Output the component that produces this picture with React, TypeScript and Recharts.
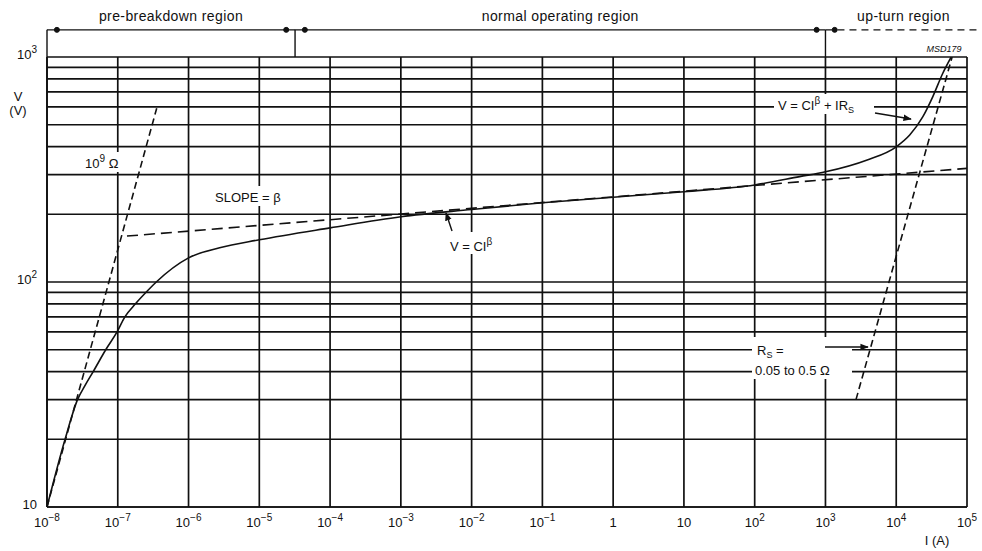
import React from "react";
import {
  LineChart,
  Line,
  XAxis,
  YAxis,
  CartesianGrid,
  ReferenceLine,
  ReferenceDot,
} from "recharts";

// current axis (A), one tick per decade
const currentTicks = [1e-8, 1e-7, 1e-6, 1e-5, 1e-4, 1e-3, 1e-2, 1e-1, 1, 10, 1e2, 1e3, 1e4, 1e5];
const currentTickBase = ["10", "10", "10", "10", "10", "10", "10", "10", "1", "10", "10", "10", "10", "10"];
const currentTickExp = ["−8", "−7", "−6", "−5", "−4", "−3", "−2", "−1", "", "", "2", "3", "4", "5"];

// voltage axis (V), grid at every 1..9 x decade, labels on decades only
const voltageGrid = [10, 20, 30, 40, 50, 60, 70, 80, 90, 100, 200, 300, 400, 500, 600, 700, 800, 900, 1000];
const voltageLabelValues = [10, 100, 1000];
const voltageLabelExp = ["", "2", "3"];

// measured characteristic V(I)
const curveI = [
  1e-8, 1.8e-8, 2.7e-8, 3.5e-8, 4.5e-8, 6.76e-8, 9.77e-8, 1.26e-7, 1.78e-7, 2.51e-7, 3.5e-7,
  1e-6, 2.75e-6, 1e-5, 1e-4, 1e-3, 1e-2, 0.1, 1, 10, 100, 432, 1000, 3800, 1e4, 15500,
  23800, 32900, 45500, 59700,
];
const curveV = [
  10, 20, 30, 35, 40, 50, 60, 70, 80, 90, 100,
  128, 142, 154, 174, 195, 210, 225, 238, 252, 270, 294, 309, 348, 399, 450,
  543, 667, 847, 1000,
];

// V = C·I^β fit (dashed)
const fitI = [1.35e-7, 1e5];
const fitV = [160, 320];

// 10^9 ohm leakage line
const leakI = [1e-8, 3.55e-7];
const leakV = [10, 592];

// Rs line in the up-turn region
const rsI = [2700, 61600];
const rsV = [30, 1000];

// region header above the plot
const headerV = 1320;
const regionEdges = [1e-8, 3.2e-5, 1e3, 1.6e5];
const regionNames = ["pre-breakdown region", "normal operating region", "up-turn region"];
const arrowHeadsI = [1.38e-8, 2.4e-5, 4.4e-5, 750, 1350];

const toPoints = (xs: number[], ys: number[]) => xs.map((i, k) => ({ i, v: ys[k] }));

const curveData = toPoints(curveI, curveV);
const fitData = toPoints(fitI, fitV);
const leakData = toPoints(leakI, leakV);
const rsData = toPoints(rsI, rsV);

const FONT = "'Liberation Sans', Arial, sans-serif";
const INK = "#111";

const CurrentTick = (props: any) => {
  const { x, y, payload } = props;
  const idx = currentTicks.indexOf(payload.value);
  if (idx < 0) return <g />;
  return (
    <text x={x} y={y + 12} textAnchor="middle" fontSize={13} fill={INK} fontFamily={FONT}>
      <tspan>{currentTickBase[idx]}</tspan>
      {currentTickExp[idx] && (
        <tspan dy={-6} fontSize={10}>
          {currentTickExp[idx]}
        </tspan>
      )}
    </text>
  );
};

const VoltageTick = (props: any) => {
  const { x, y, payload } = props;
  const idx = voltageLabelValues.indexOf(payload.value);
  if (idx < 0) return <g />;
  return (
    <text x={x - 2} y={y + 2} textAnchor="end" fontSize={13} fill={INK} fontFamily={FONT}>
      <tspan>10</tspan>
      {voltageLabelExp[idx] && (
        <tspan dy={-6} fontSize={10}>
          {voltageLabelExp[idx]}
        </tspan>
      )}
    </text>
  );
};

const labelStyle = { fontSize: 14, fill: INK, fontFamily: FONT, letterSpacing: 0.4 };

export default function App() {
  return (
    <div style={{ position: "relative", width: 982, height: 551, background: "#fff" }}>
      <style>{`body{margin:0;}`}</style>
      <LineChart
        width={982}
        height={551}
        margin={{ top: 57, right: 15, bottom: 0, left: 0 }}
      >
        <CartesianGrid stroke={INK} strokeWidth={1.7} fill="none" />
        <XAxis
          dataKey="i"
          type="number"
          scale="log"
          domain={[1e-8, 1e5]}
          ticks={currentTicks}
          interval={0}
          allowDataOverflow
          height={44}
          tickLine={false}
          axisLine={{ stroke: INK, strokeWidth: 1.7 }}
          tick={<CurrentTick />}
        />
        <YAxis
          dataKey="v"
          type="number"
          scale="log"
          domain={[10, 1000]}
          ticks={voltageGrid}
          interval={0}
          allowDataOverflow
          width={47}
          tickLine={false}
          axisLine={{ stroke: INK, strokeWidth: 1.7 }}
          tick={<VoltageTick />}
        />

        {/* region header */}
        {regionNames.map((name, k) => (
          <ReferenceLine
            key={name}
            ifOverflow="visible"
            segment={[
              { x: regionEdges[k], y: headerV },
              { x: regionEdges[k + 1], y: headerV },
            ]}
            stroke={INK}
            strokeWidth={1.4}
            strokeDasharray={k === 2 ? "7 5" : undefined}
            label={{ value: name, position: "top", offset: 9, style: labelStyle }}
          />
        ))}
        {regionEdges.slice(0, 3).map((edge) => (
          <ReferenceLine
            key={"edge" + edge}
            ifOverflow="visible"
            segment={[
              { x: edge, y: headerV },
              { x: edge, y: 1000 },
            ]}
            stroke={INK}
            strokeWidth={1.4}
          />
        ))}
        {arrowHeadsI.map((ai) => (
          <ReferenceDot
            key={"ah" + ai}
            x={ai}
            y={headerV}
            r={2.5}
            fill={INK}
            stroke={INK}
            ifOverflow="visible"
          />
        ))}

        <Line
          data={leakData}
          dataKey="v"
          type="linear"
          stroke={INK}
          strokeWidth={1.6}
          strokeDasharray="7 4"
          dot={false}
          isAnimationActive={false}
        />
        <Line
          data={fitData}
          dataKey="v"
          type="linear"
          stroke={INK}
          strokeWidth={1.6}
          strokeDasharray="11 6"
          dot={false}
          isAnimationActive={false}
        />
        <Line
          data={rsData}
          dataKey="v"
          type="linear"
          stroke={INK}
          strokeWidth={1.6}
          strokeDasharray="7 4"
          dot={false}
          isAnimationActive={false}
        />
        <Line
          data={curveData}
          dataKey="v"
          type="monotone"
          stroke={INK}
          strokeWidth={1.6}
          dot={false}
          isAnimationActive={false}
        />
      </LineChart>

      {/* annotations */}
      <svg
        width={982}
        height={551}
        style={{ position: "absolute", left: 0, top: 0, pointerEvents: "none" }}
        fontFamily={FONT}
        fill={INK}
      >
        <defs>
          <marker id="ah" viewBox="0 0 10 10" refX="9" refY="5" markerWidth="6" markerHeight="6" orient="auto">
            <path d="M0,1 L10,5 L0,9 z" fill={INK} />
          </marker>
        </defs>

        <rect x={82} y={152} width={54} height={20} fill="#fff" />
        <text x={85} y={168} fontSize={13}>
          10<tspan dy={-6} fontSize={10}>9</tspan>
          <tspan dy={6}> Ω</tspan>
        </text>

        <rect x={212} y={186} width={92} height={20} fill="#fff" />
        <text x={215} y={202} fontSize={13}>SLOPE = β</text>

        <rect x={447} y={232} width={64} height={22} fill="#fff" />
        <text x={450} y={251} fontSize={13}>
          V = CI<tspan dy={-6} fontSize={10}>β</tspan>
        </text>
        <line x1={452} y1={231} x2={446} y2={213} stroke={INK} strokeWidth={1.4} markerEnd="url(#ah)" />

        <rect x={774} y={94} width={100} height={20} fill="#fff" />
        <text x={778} y={110} fontSize={13}>
          V = CI<tspan dy={-6} fontSize={10}>β</tspan>
          <tspan dy={6}> + IR</tspan>
          <tspan dy={3} fontSize={9}>S</tspan>
        </text>
        <line x1={875} y1={113} x2={911} y2={119} stroke={INK} strokeWidth={1.4} markerEnd="url(#ah)" />

        <rect x={752} y={337} width={100} height={42} fill="#fff" />
        <text x={757} y={355} fontSize={13}>
          R<tspan dy={3} fontSize={9}>S</tspan>
          <tspan dy={-3}> =</tspan>
        </text>
        <text x={755} y={375} fontSize={13}>0.05 to 0.5 Ω</text>
        <line x1={825} y1={347} x2={868} y2={347} stroke={INK} strokeWidth={1.4} markerEnd="url(#ah)" />

        <text x={944} y={52} fontSize={9} fontStyle="italic" textAnchor="middle">MSD179</text>

        <text x={18} y={101} fontSize={13} textAnchor="middle">V</text>
        <text x={18} y={115} fontSize={13} textAnchor="middle">(V)</text>
        <text x={937} y={545} fontSize={13} textAnchor="middle">I (A)</text>
      </svg>
    </div>
  );
}
